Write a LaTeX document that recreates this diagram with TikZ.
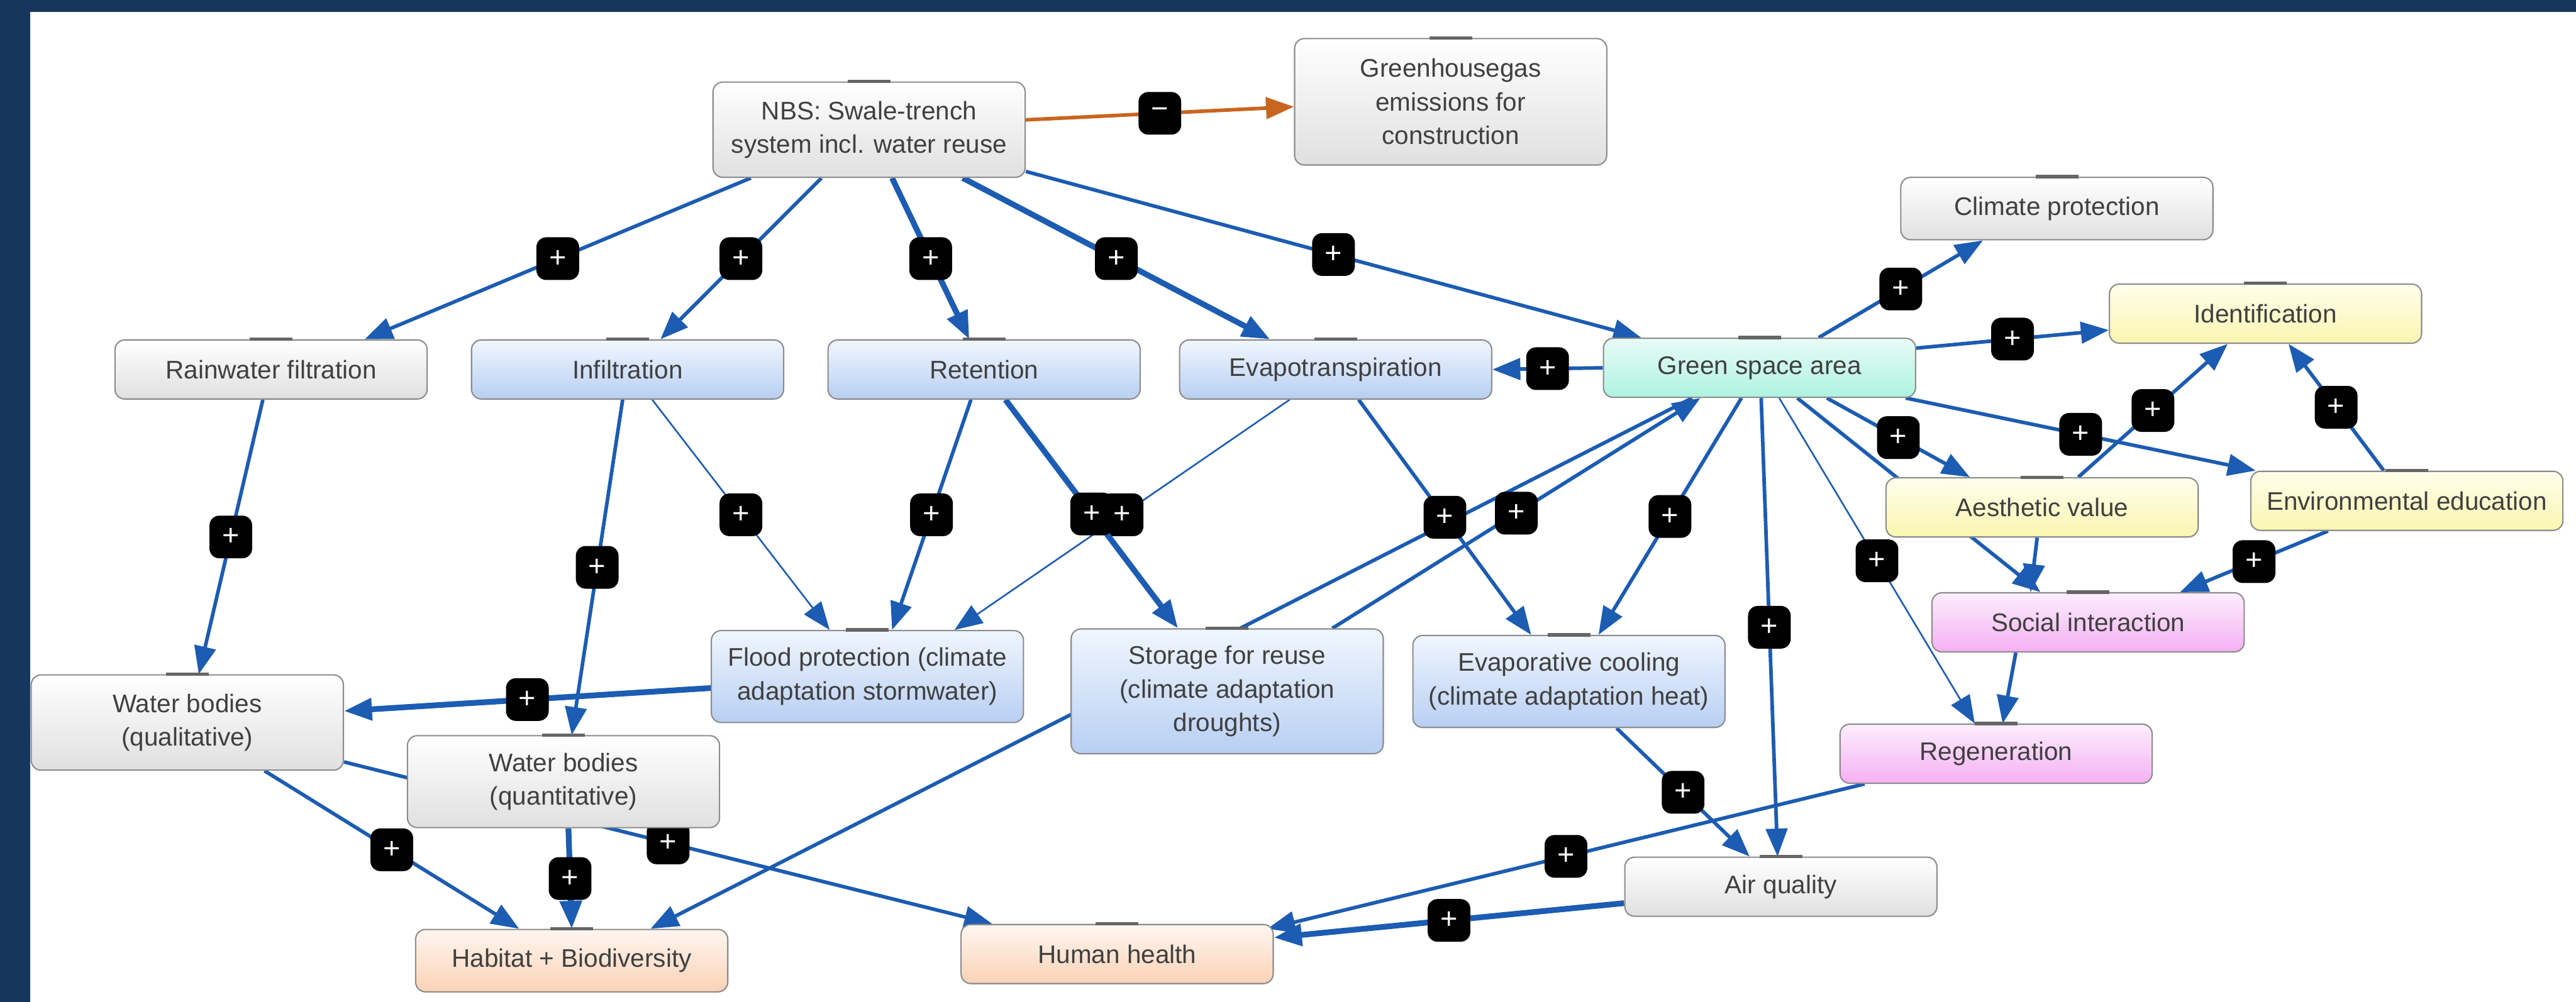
\documentclass[tikz,border=0pt]{standalone}
\usepackage{fontspec}
\usepackage{xcolor}
\usepackage{tikz}
\usetikzlibrary{arrows.meta}

\newfontfamily\mapfont{Liberation Sans}

\definecolor{navy}{RGB}{23,54,94}
\definecolor{linkblue}{RGB}{28,92,178}
\definecolor{minuslink}{RGB}{200,101,30}
\definecolor{greyend}{RGB}{224,224,224}
\definecolor{bluetop}{RGB}{240,246,254}
\definecolor{blueend}{RGB}{184,207,243}
\definecolor{minttop}{RGB}{232,252,246}
\definecolor{mintend}{RGB}{174,242,224}
\definecolor{yellowtop}{RGB}{255,254,236}
\definecolor{yellowend}{RGB}{250,246,176}
\definecolor{pinktop}{RGB}{253,238,253}
\definecolor{pinkend}{RGB}{245,176,243}
\definecolor{peachtop}{RGB}{255,246,240}
\definecolor{peachend}{RGB}{251,210,182}

\pgfdeclarelayer{background}
\pgfsetlayers{background,main}

\begin{document}
\begin{tikzpicture}[x=1pt, y=-1pt, >={Triangle[length=17pt, width=13pt]},
    box/.style={draw=black!45, line width=0.8pt, rounded corners=6pt, minimum width=190pt, minimum height=36pt,
        inner sep=2pt, align=center, text=black!75, font=\mapfont\fontsize{15.5}{20.5}\selectfont,
        append after command={([xshift=-13pt]\tikzlastnode.north) edge[draw=black!60, line width=2pt] ([xshift=13pt]\tikzlastnode.north)}},
    greybox/.style={box, top color=white, bottom color=greyend},
    bluebox/.style={box, top color=bluetop, bottom color=blueend},
    mintbox/.style={box, top color=minttop, bottom color=mintend},
    yellowbox/.style={box, top color=yellowtop, bottom color=yellowend},
    pinkbox/.style={box, top color=pinktop, bottom color=pinkend},
    peachbox/.style={box, top color=peachtop, bottom color=peachend},
    link/.style={->, draw=linkblue, line width=2.2pt},
    weak/.style={link, line width=1pt},
    strong/.style={link, line width=3.5pt},
    sign/.style={pos=0.5, fill=black, rounded corners=6pt, minimum size=26pt, inner sep=0pt, text=white,
        font=\mapfont\fontsize{18}{18}\selectfont}]
    \useasboundingbox (0,0) rectangle (1568,610.2);

    \node[greybox, minimum height=58pt]   (nbs)     at (529,79)   {NBS: Swale-trench\\system incl. water reuse};
    \node[greybox, minimum height=77pt]   (ghg)     at (883,62)   {Greenhousegas\\emissions for\\construction};
    \node[greybox, minimum height=38pt]   (climate) at (1252,127) {Climate protection};
    \node[yellowbox]                      (ident)   at (1379,191) {Identification};
    \node[greybox]                        (rain)    at (165,225)  {Rainwater filtration};
    \node[bluebox]                        (infil)   at (382,225)  {Infiltration};
    \node[bluebox]                        (reten)   at (599,225)  {Retention};
    \node[bluebox]                        (evapo)   at (813,225)  {Evapotranspiration};
    \node[mintbox]                        (green)   at (1071,224) {Green space area};
    \node[yellowbox]                      (aesth)   at (1243,309) {Aesthetic value};
    \node[yellowbox]                      (envedu)  at (1465,305) {Environmental education};
    \node[pinkbox]                        (social)  at (1271,379) {Social interaction};
    \node[bluebox, minimum height=56pt]   (flood)   at (528,412)  {Flood protection (climate\\adaptation stormwater)};
    \node[bluebox, minimum height=76pt]   (storage) at (747,421)  {Storage for reuse\\(climate adaptation\\droughts)};
    \node[bluebox, minimum height=56pt]   (evcool)  at (955,415)  {Evaporative cooling\\(climate adaptation heat)};
    \node[pinkbox]                        (regen)   at (1215,459) {Regeneration};
    \node[greybox]                        (air)     at (1084,540) {Air quality};
    \node[greybox, minimum height=58pt]   (wbqual)  at (114,440)  {Water bodies\\(qualitative)};
    \node[greybox, minimum height=56pt]   (wbquant) at (343,476)  {Water bodies\\(quantitative)};
    \node[peachbox, minimum height=38pt]  (habitat) at (348,585)  {Habitat + Biodiversity};
    \node[peachbox]                       (health)  at (680,581)  {Human health};

    \begin{pgfonlayer}{background}
    \fill[navy] (0,0) rectangle (1568,610.2);
    \fill[white] (18.2,7.3) rectangle (1568,610.2);

    \path ([yshift=6pt]nbs.east)         edge[link, draw=minuslink] node[sign] {−} ([yshift=-3pt]ghg.west)
          ([xshift=-72pt]nbs.south)      edge[link]   node[sign] {+} ([xshift=57pt]rain.north)
          ([xshift=-29pt]nbs.south)      edge[link]   node[sign] {+} ([xshift=20pt]infil.north)
          ([xshift=14pt]nbs.south)       edge[strong] node[sign] {+} ([xshift=-9pt]reten.north)
          ([xshift=57pt]nbs.south)       edge[strong] node[sign] {+} ([xshift=-40pt]evapo.north)
          ([yshift=4pt]nbs.south east)   edge[link]   node[sign] {+} ([xshift=-72pt]green.north)
          (green.west)                   edge[link]   node[sign] {+} (evapo.east)
          ([xshift=36pt]green.north)     edge[link]   node[sign] {+} ([xshift=-45pt]climate.south)
          ([yshift=12pt]green.east)      edge[link]   node[sign] {+} ([yshift=-10pt]ident.west)
          ([xshift=41pt]green.south)     edge[link]   node[sign] {+} ([xshift=-44pt]aesth.north)
          ([xshift=89pt]green.south)     edge[link]   node[sign] {+} ([xshift=-92pt]envedu.north)
          ([xshift=23pt]green.south)     edge[link]                  ([xshift=-29pt]social.north)
          ([xshift=12pt]green.south)     edge[weak]   node[sign] {+} ([xshift=-13pt]regen.north)
          ([xshift=1pt]green.south)      edge[link]   node[sign] {+} ([xshift=-2pt]air.north)
          ([xshift=-11pt]green.south)    edge[link]   node[sign] {+} ([xshift=18pt]evcool.north)
          ([xshift=-41pt]green.south)    edge[link]                  ([xshift=48pt]habitat.north)
          ([xshift=64pt]storage.north)   edge[link]   node[sign] {+} ([xshift=-36pt]green.south)
          ([xshift=22pt]aesth.north)     edge[link]   node[sign] {+} ([xshift=-23pt]ident.south)
          ([xshift=-14pt]envedu.north)   edge[link]   node[sign] {+} ([xshift=14pt]ident.south)
          ([xshift=-48pt]envedu.south)   edge[link]   node[sign] {+} ([xshift=56pt]social.north)
          ([xshift=-3pt]aesth.south)     edge[link]                  ([xshift=-35pt]social.north)
          ([xshift=-44pt]social.south)   edge[link]                  ([xshift=4pt]regen.north)
          ([xshift=-80pt]regen.south)    edge[link]   node[sign] {+} ([xshift=-4pt, yshift=-3pt]health.north east)
          ([yshift=-10pt]air.west)       edge[strong] node[sign] {+} ([yshift=10pt]health.east)
          ([xshift=29pt]evcool.south)    edge[link]   node[sign] {+} ([xshift=-19pt]air.north)
          ([xshift=14pt]evapo.south)     edge[link]   node[sign] {+} ([xshift=-23pt]evcool.north)
          ([xshift=-28pt]evapo.south)    edge[weak]   node[sign] {+} ([xshift=53pt]flood.north)
          ([xshift=-8pt]reten.south)     edge[link]   node[sign] {+} ([xshift=15pt]flood.north)
          ([xshift=13pt]reten.south)     edge[strong] node[sign] {+} ([xshift=-30pt]storage.north)
          ([xshift=15pt]infil.south)     edge[weak]   node[sign] {+} ([xshift=-23pt]flood.north)
          ([xshift=-3pt]infil.south)     edge[link]   node[sign] {+} ([xshift=5pt]wbquant.north)
          ([xshift=-5pt]rain.south)      edge[link]   node[sign] {+} ([xshift=7pt]wbqual.north)
          ([yshift=-7pt]flood.west)      edge[strong] node[sign] {+} ([yshift=7pt]wbqual.east)
          ([xshift=47pt]wbqual.south)    edge[link]   node[sign] {+} ([xshift=-32pt]habitat.north)
          ([yshift=-24pt]wbqual.east)    edge[link]   node[sign] {+} ([xshift=-76pt]health.north)
          ([xshift=3pt]wbquant.south)    edge[strong] node[sign] {+} (habitat.north);
    \end{pgfonlayer}
\end{tikzpicture}
\end{document}
